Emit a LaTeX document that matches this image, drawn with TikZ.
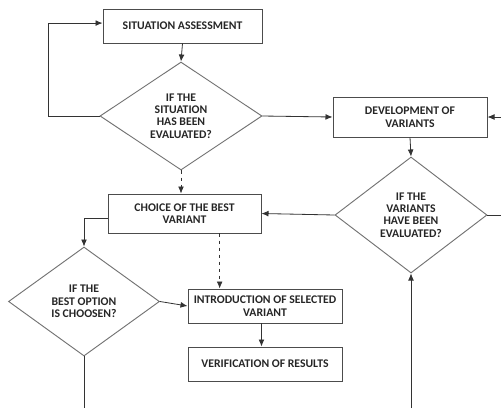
\documentclass[tikz,border=0pt]{standalone}
\usepackage{fontspec}
\setmainfont{Carlito}
\usetikzlibrary{positioning,shapes.geometric,arrows.meta}

\begin{document}
\begin{tikzpicture}[x=0.03cm,y=-0.03cm,
    font=\fontsize{10}{10.6}\selectfont\bfseries,text=black!85,
    box/.style={draw=black!70,line width=0.8pt,align=center,inner sep=0pt},
    decision/.style={diamond,draw=black!55,line width=0.8pt,align=center,inner sep=0pt},
    arr/.style={draw=black!80,line width=0.7pt,-{Latex[length=6pt,width=5pt]}},
    dasharr/.style={arr,dashed},
    plain/.style={draw=black!80,line width=0.7pt}]
    \useasboundingbox (0,0) rectangle (501,408);
    \clip (0,0) rectangle (501,408);

    \node[box,minimum width=159*0.03cm,minimum height=34*0.03cm] (sit) at (182.5,26) {SITUATION ASSESSMENT};
    \node[decision,minimum width=162*0.03cm,minimum height=108*0.03cm] (qsit) at (181,116) {IF THE\\SITUATION\\HAS BEEN\\EVALUATED?};
    \node[box,minimum width=154*0.03cm,minimum height=40*0.03cm] (dev) at (410,117) {DEVELOPMENT OF\\VARIANTS};
    \node[decision,minimum width=152*0.03cm,minimum height=116*0.03cm] (qvar) at (411,215) {IF THE\\VARIANTS\\HAVE BEEN\\EVALUATED?};
    \node[box,minimum width=153*0.03cm,minimum height=39*0.03cm] (choice) at (184.5,213.5) {CHOICE OF THE BEST\\VARIANT};
    \node[decision,minimum width=151*0.03cm,minimum height=109*0.03cm] (qbest) at (84,301.5) {IF THE\\BEST OPTION\\IS CHOOSEN?};
    \node[box,minimum width=154*0.03cm,minimum height=34*0.03cm] (intro) at (265,306) {INTRODUCTION OF SELECTED\\VARIANT};
    \node[box,minimum width=154*0.03cm,minimum height=34*0.03cm] (verif) at (265,364) {VERIFICATION OF RESULTS};

    \coordinate (rin) at (501,117);
    \coordinate (rout) at (501,215);
    \coordinate (bleft) at (84,408);
    \coordinate (bright) at (411,408);

    \draw[arr] (sit.south) -- (qsit.north);
    \draw[arr] (qsit.west) -- ++(-51,0) |- ([yshift=2.5pt]sit.west);
    \draw[dasharr] (qsit.south) -- (qsit.south |- choice.north);
    \draw[arr] (qsit.east) -- (dev.west);
    \draw[arr] (rin) -- (dev.east);
    \draw[arr] (dev.south) -- (qvar.north);
    \draw[plain] (qvar.east) -- (rout);
    \draw[arr] (qvar.west) -- (choice.east);
    \draw[arr] ([yshift=-4pt]choice.west) -| (qbest.north);
    \draw[arr] (qbest.east) -- (intro.west);
    \draw[dasharr] ([xshift=30pt]choice.south) -- ([xshift=30pt]choice.south |- intro.north);
    \draw[arr] ([xshift=-3pt]intro.south) -- ([xshift=-3pt]verif.north);
    \draw[plain] (qbest.south) -- (bleft);
    \draw[arr] (bright) -- (qvar.south);
\end{tikzpicture}
\end{document}
